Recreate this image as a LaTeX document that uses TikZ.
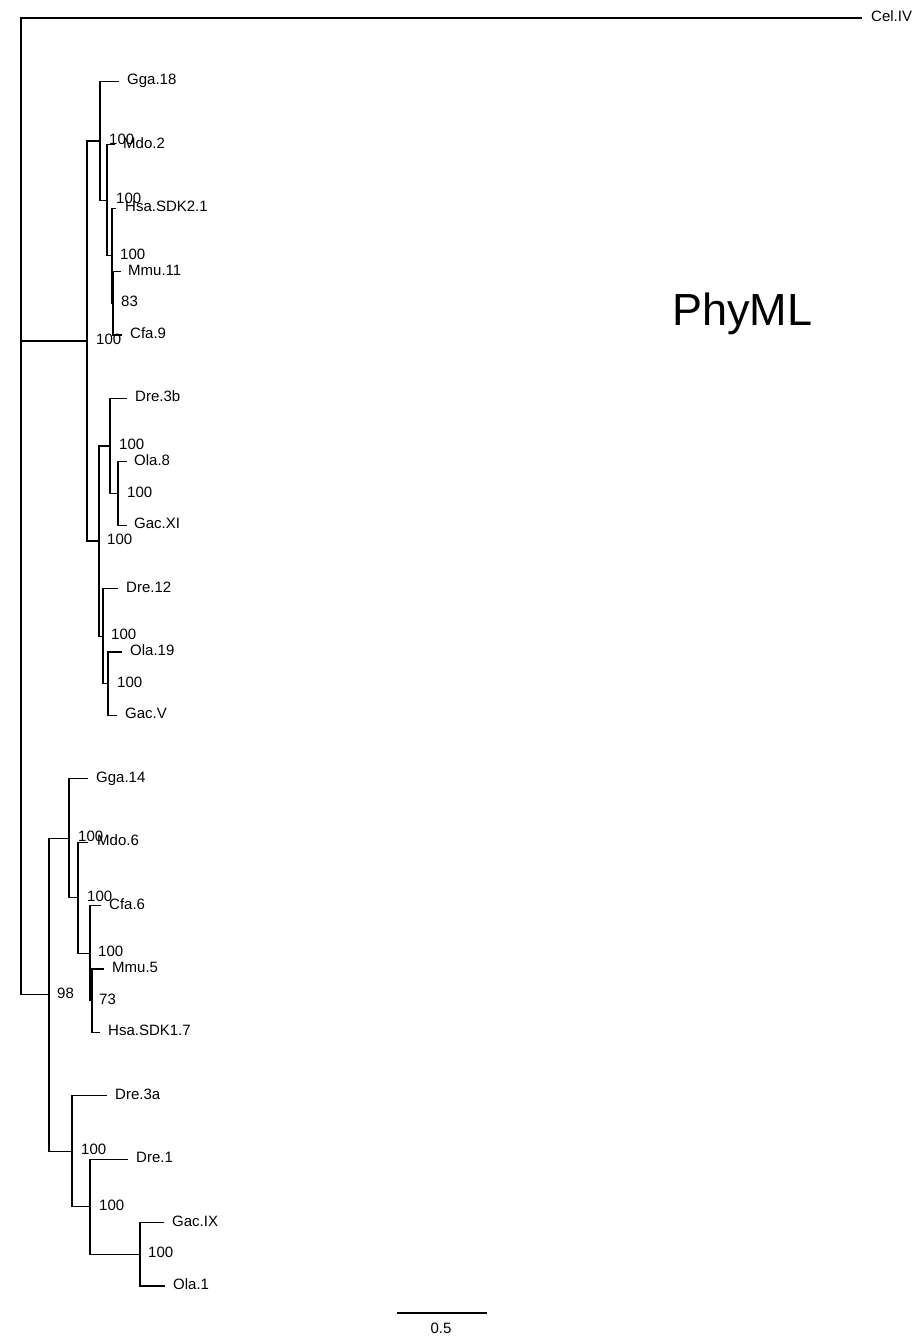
\documentclass[tikz,border=0pt]{standalone}
\usepackage{fontspec}
\setmainfont{Liberation Sans}
\begin{document}
\begin{tikzpicture}[x=1pt,y=-1pt,
  branch/.style={line width=1.3pt},
  taxon/.style={anchor=base west,inner sep=0pt,font=\fontsize{15}{18}\selectfont},
  support/.style={anchor=base west,inner sep=0pt,font=\fontsize{15}{18}\selectfont}]
\fill[white] (0,0) rectangle (916,1336);
\useasboundingbox (0,0) rectangle (916,1336);
% internal nodes
\coordinate (root) at (21,667.9);
\coordinate (A) at (87,340.95);
\coordinate (B) at (100,140.85);
\coordinate (D) at (107,200.3);
\coordinate (E) at (112,255.75);
\coordinate (F) at (113,303.3);
\coordinate (C) at (99,541.05);
\coordinate (G) at (110,445.95);
\coordinate (H) at (118,493.5);
\coordinate (I) at (103,636.15);
\coordinate (J) at (108,683.7);
\coordinate (K) at (49,994.8);
\coordinate (L) at (69,838.25);
\coordinate (M) at (78,897.7);
\coordinate (N) at (90,953.15);
\coordinate (O) at (92,1000.7);
\coordinate (P) at (72,1151.3);
\coordinate (Q) at (90,1206.75);
\coordinate (Rn) at (140,1254.3);
% tips
\coordinate (tCel) at (862,18);
\coordinate (tGga18) at (119,81.4);
\coordinate (tMdo2) at (115,144.8);
\coordinate (tHsa2) at (116,208.2);
\coordinate (tMmu11) at (121,271.6);
\coordinate (tCfa9) at (122,335);
\coordinate (tDre3b) at (127,398.4);
\coordinate (tOla8) at (127,461.8);
\coordinate (tGacXI) at (127,525.2);
\coordinate (tDre12) at (118,588.6);
\coordinate (tOla19) at (122,652);
\coordinate (tGacV) at (117,715.4);
\coordinate (tGga14) at (88,778.8);
\coordinate (tMdo6) at (88,842.2);
\coordinate (tCfa6) at (101,905.6);
\coordinate (tMmu5) at (104,969);
\coordinate (tHsa17) at (100,1032.4);
\coordinate (tDre3a) at (107,1095.8);
\coordinate (tDre1) at (128,1159.2);
\coordinate (tGacIX) at (164,1222.6);
\coordinate (tOla1) at (165,1286);
% tip labels
\node[taxon] (lCel) at ([shift={(9,3.5)}]tCel) {Cel.IV};
\node[taxon] (lGga18) at ([shift={(8,3.5)}]tGga18) {Gga.18};
\node[taxon] (lMdo2) at ([shift={(8,3.5)}]tMdo2) {Mdo.2};
\node[taxon] (lHsa2) at ([shift={(9,3.5)}]tHsa2) {Hsa.SDK2.1};
\node[taxon] (lMmu11) at ([shift={(7,3.5)}]tMmu11) {Mmu.11};
\node[taxon] (lCfa9) at ([shift={(8,3.5)}]tCfa9) {Cfa.9};
\node[taxon] (lDre3b) at ([shift={(8,3.5)}]tDre3b) {Dre.3b};
\node[taxon] (lOla8) at ([shift={(7,3.5)}]tOla8) {Ola.8};
\node[taxon] (lGacXI) at ([shift={(7,3.5)}]tGacXI) {Gac.XI};
\node[taxon] (lDre12) at ([shift={(8,3.5)}]tDre12) {Dre.12};
\node[taxon] (lOla19) at ([shift={(8,3.5)}]tOla19) {Ola.19};
\node[taxon] (lGacV) at ([shift={(8,3.5)}]tGacV) {Gac.V};
\node[taxon] (lGga14) at ([shift={(8,3.5)}]tGga14) {Gga.14};
\node[taxon] (lMdo6) at ([shift={(9,3.5)}]tMdo6) {Mdo.6};
\node[taxon] (lCfa6) at ([shift={(8,3.5)}]tCfa6) {Cfa.6};
\node[taxon] (lMmu5) at ([shift={(8,3.5)}]tMmu5) {Mmu.5};
\node[taxon] (lHsa17) at ([shift={(8,3.5)}]tHsa17) {Hsa.SDK1.7};
\node[taxon] (lDre3a) at ([shift={(8,3.5)}]tDre3a) {Dre.3a};
\node[taxon] (lDre1) at ([shift={(8,3.5)}]tDre1) {Dre.1};
\node[taxon] (lGacIX) at ([shift={(8,3.5)}]tGacIX) {Gac.IX};
\node[taxon] (lOla1) at ([shift={(8,3.5)}]tOla1) {Ola.1};
% branches
\draw[branch] (root) |- (tCel) (root) |- (A) (root) |- (K);
\draw[branch] (A) |- (B) (A) |- (C);
\draw[branch] (B) |- (tGga18) (B) |- (D);
\draw[branch] (D) |- (tMdo2) (D) |- (E);
\draw[branch] (E) |- (tHsa2) (E) |- (F);
\draw[branch] (F) |- (tMmu11) (F) |- (tCfa9);
\draw[branch] (C) |- (G) (C) |- (I);
\draw[branch] (G) |- (tDre3b) (G) |- (H);
\draw[branch] (H) |- (tOla8) (H) |- (tGacXI);
\draw[branch] (I) |- (tDre12) (I) |- (J);
\draw[branch] (J) |- (tOla19) (J) |- (tGacV);
\draw[branch] (K) |- (L) (K) |- (P);
\draw[branch] (L) |- (tGga14) (L) |- (M);
\draw[branch] (M) |- (tMdo6) (M) |- (N);
\draw[branch] (N) |- (tCfa6) (N) |- (O);
\draw[branch] (O) |- (tMmu5) (O) |- (tHsa17);
\draw[branch] (P) |- (tDre3a) (P) |- (Q);
\draw[branch] (Q) |- (tDre1) (Q) |- (Rn);
\draw[branch] (Rn) |- (tGacIX) (Rn) |- (tOla1);
% support values
\node[support] (sA) at ([shift={(9,3.5)}]A) {100};
\node[support] (sB) at ([shift={(9,3.5)}]B) {100};
\node[support] (sD) at ([shift={(9,3.5)}]D) {100};
\node[support] (sE) at ([shift={(8,3.5)}]E) {100};
\node[support] (sF) at ([shift={(8,3.5)}]F) {83};
\node[support] (sC) at ([shift={(8,3.5)}]C) {100};
\node[support] (sG) at ([shift={(9,3.5)}]G) {100};
\node[support] (sH) at ([shift={(9,3.5)}]H) {100};
\node[support] (sI) at ([shift={(8,3.5)}]I) {100};
\node[support] (sJ) at ([shift={(9,3.5)}]J) {100};
\node[support] (sK) at ([shift={(8,3.5)}]K) {98};
\node[support] (sL) at ([shift={(9,3.5)}]L) {100};
\node[support] (sM) at ([shift={(9,3.5)}]M) {100};
\node[support] (sN) at ([shift={(8,3.5)}]N) {100};
\node[support] (sO) at ([shift={(7,3.5)}]O) {73};
\node[support] (sP) at ([shift={(9,3.5)}]P) {100};
\node[support] (sQ) at ([shift={(9,3.5)}]Q) {100};
\node[support] (sR) at ([shift={(8,3.5)}]Rn) {100};
% scale bar
\coordinate (sb1) at (397,1313);
\coordinate (sb2) at (487,1313);
\draw[branch] (sb1) -- (sb2);
\node[anchor=base,inner sep=0pt,font=\fontsize{15}{18}\selectfont] (sbl) at (441,1333) {0.5};
% title
\node[anchor=base west,inner sep=0pt,font=\fontsize{45}{54}\selectfont] (title) at (672,325) {PhyML};
\end{tikzpicture}
\end{document}
